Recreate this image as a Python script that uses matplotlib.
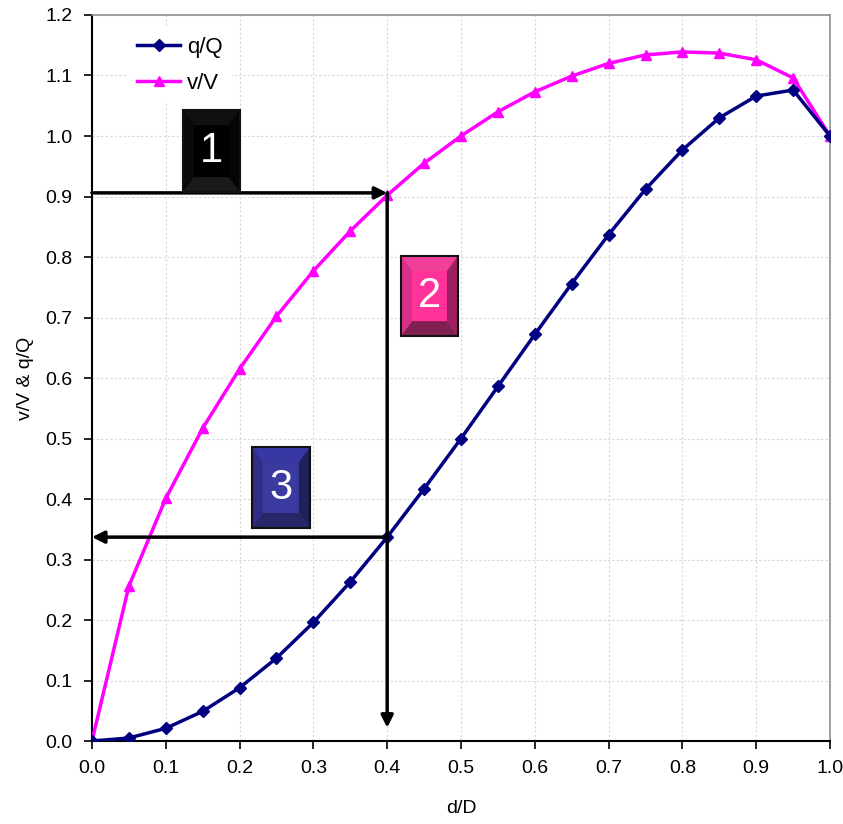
import numpy as np
import matplotlib
matplotlib.use("Agg")
import matplotlib.pyplot as plt
from matplotlib.patches import Polygon, Rectangle

plt.rcParams['font.family'] = ['Liberation Sans', 'DejaVu Sans']

# ==============================
# DATA
# ==============================
d_D = [0.0, 0.05, 0.1, 0.15, 0.2, 0.25, 0.3, 0.35, 0.4, 0.45, 0.5,
       0.55, 0.6, 0.65, 0.7, 0.75, 0.8, 0.85, 0.9, 0.95, 1.0]
q_Q = [0.0, 0.005, 0.021, 0.049, 0.088, 0.137, 0.196, 0.263, 0.337, 0.417, 0.5,
       0.586, 0.672, 0.756, 0.837, 0.912, 0.977, 1.030, 1.066, 1.076, 1.0]
v_V = [0.0, 0.256, 0.401, 0.517, 0.615, 0.702, 0.777, 0.843, 0.902, 0.955, 1.0,
       1.040, 1.073, 1.099, 1.120, 1.134, 1.139, 1.137, 1.126, 1.096, 1.0]

SEL = 8  # d/D = 0.4

# step boxes: (label, x0, x1, y0, y1, face, top, left, right, bottom)
boxes = [
    ("1", 0.123, 0.2005, 0.907, 1.043, "#000000", "#101010", "#0a0a0a", "#050505", "#1a1a1a"),
    ("2", 0.4187, 0.496, 0.669, 0.802, "#ff3399", "#f0409a", "#d63088", "#a0205f", "#802050"),
    ("3", 0.2168, 0.2954, 0.352, 0.486, "#3a3aa0", "#3838a5", "#2e2e8a", "#20205a", "#262668"),
]

# ==============================
# PLOT
# ==============================
fig = plt.figure(figsize=(8.43, 8.24), dpi=100)
ax = fig.add_axes([0.1091, 0.1007, 0.8755, 0.8811])

ax.plot(d_D, q_Q, color='#000080', lw=2.5, marker='D', ms=6, label='q/Q', zorder=4)
ax.plot(d_D, v_V, color='#ff00ff', lw=2.5, marker='^', ms=7.5, label='v/V', zorder=3)

ax.set_xlim(0, 1.0)
ax.set_ylim(0, 1.2)
ax.set_xticks(np.arange(0, 1.01, 0.1))
ax.set_yticks(np.arange(0, 1.21, 0.1))
ax.xaxis.set_major_formatter(plt.FormatStrFormatter('%.1f'))
ax.yaxis.set_major_formatter(plt.FormatStrFormatter('%.1f'))
ax.tick_params(direction='out', length=6, width=1.2, labelsize=14, pad=8)
ax.grid(True, color='#d8d8d8', ls=(0, (2, 2)), lw=0.8)
ax.set_axisbelow(True)

for s in ['left', 'bottom']:
    ax.spines[s].set_linewidth(1.5)
for s in ['top', 'right']:
    ax.spines[s].set_color('#909090')
    ax.spines[s].set_linewidth(1.2)

ax.set_xlabel('d/D', fontsize=14, labelpad=16)
ax.set_ylabel('v/V & q/Q', fontsize=14, labelpad=8)

leg = ax.legend(loc='upper left', bbox_to_anchor=(0.034, 0.997), frameon=True,
                fontsize=16, handlelength=1.95, handletextpad=0.3,
                labelspacing=0.65, borderpad=0.4, fancybox=False)
leg.get_frame().set_facecolor('white')
leg.get_frame().set_edgecolor('none')
leg.get_frame().set_alpha(1.0)

# arrows
xs = d_D[SEL]
yv = v_V[SEL] + 0.004
yq = q_Q[SEL]
arr = dict(arrowstyle='-|>', color='black', lw=2.5, mutation_scale=18,
           shrinkA=0, shrinkB=0)
ax.annotate('', xy=(xs, yv), xytext=(0, yv), arrowprops=arr, zorder=6)
ax.annotate('', xy=(xs, 0.022), xytext=(xs, yv), arrowprops=arr, zorder=6)
ax.annotate('', xy=(0, yq), xytext=(xs, yq), arrowprops=arr, zorder=6)

# beveled boxes
for lab, x0, x1, y0, y1, face, top, left, right, bottom in boxes:
    bx = 0.015
    by = 0.025
    ax.add_patch(Rectangle((x0, y0), x1 - x0, y1 - y0, fc=face, ec='none', zorder=7))
    ix0, ix1, iy0, iy1 = x0 + bx, x1 - bx, y0 + by, y1 - by
    ax.add_patch(Polygon([(x0, y1), (x1, y1), (ix1, iy1), (ix0, iy1)], fc=top, ec='none', zorder=7))
    ax.add_patch(Polygon([(x0, y0), (x0, y1), (ix0, iy1), (ix0, iy0)], fc=left, ec='none', zorder=7))
    ax.add_patch(Polygon([(x1, y0), (x1, y1), (ix1, iy1), (ix1, iy0)], fc=right, ec='none', zorder=7))
    ax.add_patch(Polygon([(x0, y0), (x1, y0), (ix1, iy0), (ix0, iy0)], fc=bottom, ec='none', zorder=7))
    ax.add_patch(Rectangle((x0, y0), x1 - x0, y1 - y0, fc='none', ec='#111111', lw=1.5, zorder=8))
    ax.text((x0 + x1) / 2, (y0 + y1) / 2, lab, color='white', fontsize=30,
            ha='center', va='center', zorder=9)

fig.savefig('out.png', dpi=100)
